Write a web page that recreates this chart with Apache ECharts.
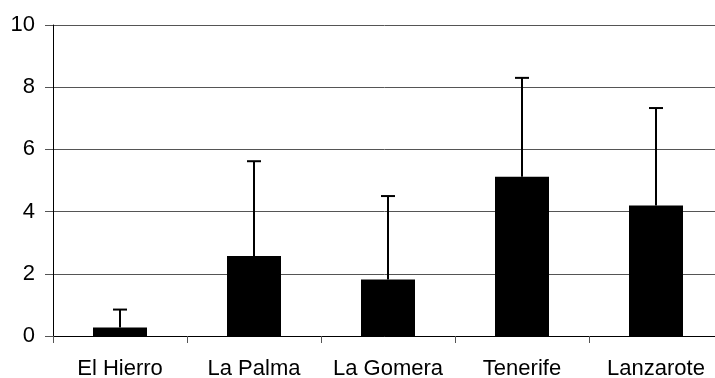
<!DOCTYPE html>
<html>
<head>
<meta charset="utf-8">
<script src="https://cdn.jsdelivr.net/npm/echarts@6/dist/echarts.min.js"></script>
<style>html,body{margin:0;padding:0;background:#fff;}#c{width:715px;height:378px;}</style>
</head>
<body>
<div id="c"></div>
<script>
var categories = ['El Hierro', 'La Palma', 'La Gomera', 'Tenerife', 'Lanzarote'];
var means = [0.27, 2.57, 1.82, 5.12, 4.2];
var upper = [0.85, 5.62, 4.5, 8.3, 7.33];
var yTicks = [0, 2, 4, 6, 8, 10];

var chart = echarts.init(document.getElementById('c'), null, {renderer: 'canvas'});
var font = '"Liberation Sans", Arial, sans-serif';
chart.setOption({
  animation: false,
  grid: {left: 53, top: 25, bottom: 42, right: -8, containLabel: false, outerBoundsMode: 'none'},
  xAxis: {
    type: 'category',
    data: categories,
    axisLine: {lineStyle: {color: '#000', width: 1}},
    axisTick: {show: true, length: 7, lineStyle: {color: '#555'}, alignWithLabel: false},
    axisLabel: {color: '#000', fontFamily: font, fontSize: 22, margin: 22, interval: 0}
  },
  yAxis: {
    type: 'value',
    min: yTicks[0], max: yTicks[yTicks.length - 1], interval: 2,
    axisLine: {show: true, lineStyle: {color: '#000', width: 1}},
    axisTick: {show: true, length: 8, lineStyle: {color: '#555'}},
    axisLabel: {color: '#000', fontFamily: font, fontSize: 22, margin: 18},
    splitLine: {show: true, lineStyle: {color: '#555', width: 1}}
  },
  series: [
    {
      type: 'bar',
      data: means,
      barWidth: 54,
      itemStyle: {color: '#000'},
      z: 2
    },
    {
      type: 'custom',
      z: 3,
      data: categories.map(function (c, i) { return [i, means[i], upper[i]]; }),
      renderItem: function (params, api) {
        var x = api.value(0);
        var p0 = api.coord([x, api.value(1)]);
        var p1 = api.coord([x, api.value(2)]);
        var half = 7;
        var style = {stroke: '#000', lineWidth: 2};
        return {
          type: 'group',
          children: [
            {type: 'line', shape: {x1: p0[0], y1: p0[1], x2: p1[0], y2: p1[1]}, style: style},
            {type: 'line', shape: {x1: p1[0] - half, y1: p1[1], x2: p1[0] + half, y2: p1[1]}, style: style}
          ]
        };
      }
    }
  ]
});
</script>
</body>
</html>
